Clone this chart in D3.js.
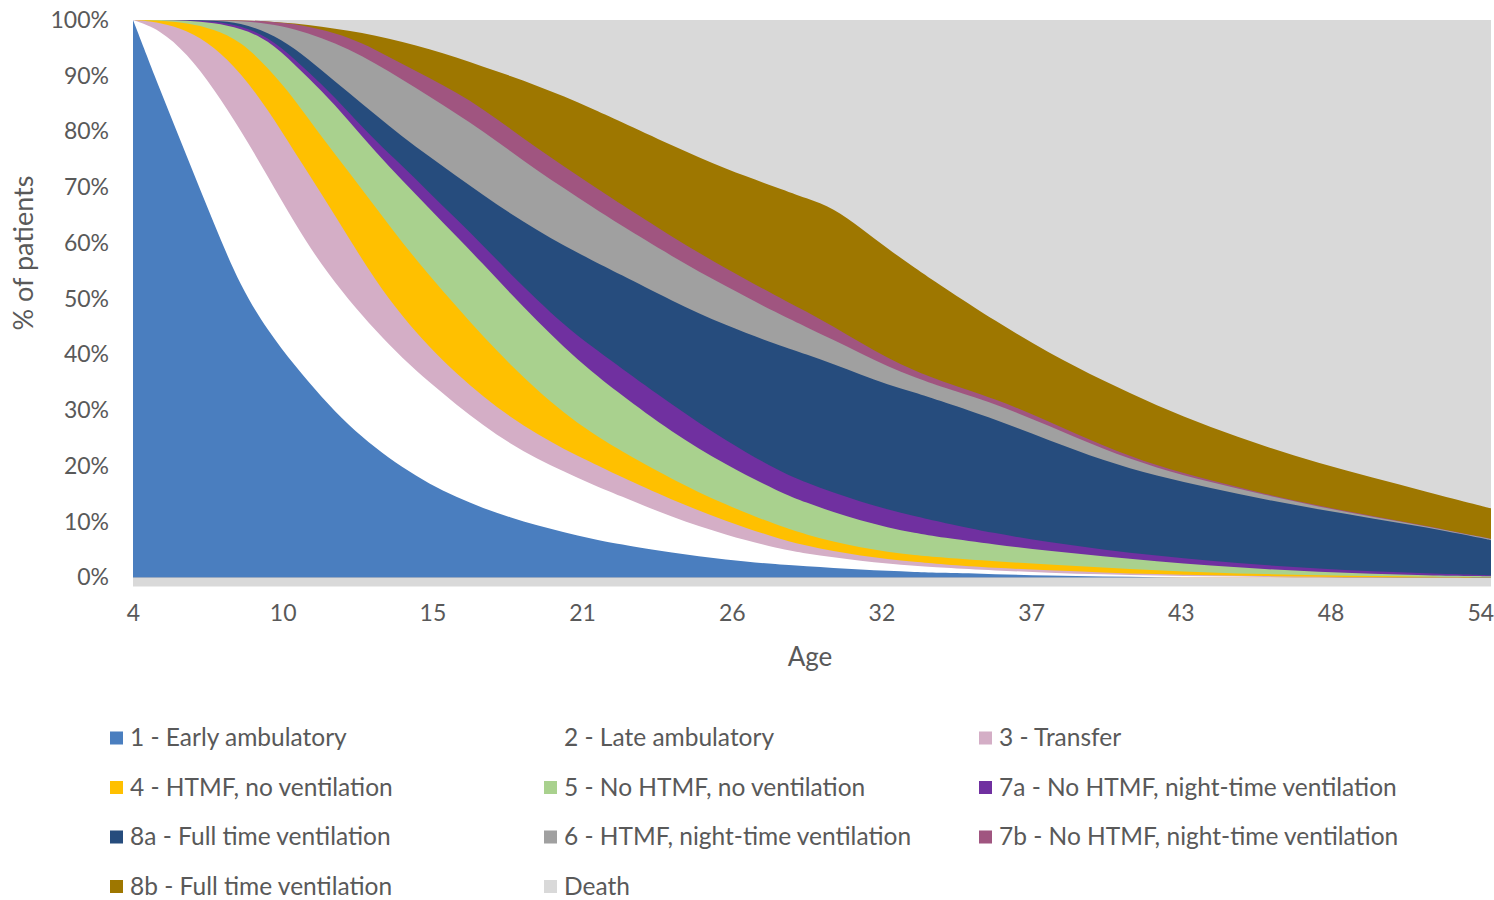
<!DOCTYPE html>
<html>
<head>
<meta charset="utf-8">
<script src="https://cdn.jsdelivr.net/npm/d3@7"></script>
<style>
  html, body { margin: 0; padding: 0; background: #fff; }
  svg { display: block; }
  text { font-family: Lato, "Open Sans", sans-serif; fill: #595959; }
</style>
</head>
<body>
<svg id="chart" width="1494" height="900"></svg>
<script>
// ---------- DATA ----------
const ages = [4,5,6,7,8,9,10,11,12,13,14,15,16,17,18,19,20,21,22,24,26,28,29,30,31,32,33,34,36,38,40,42,44,46,48,50,52,54,54.4];

const seriesNames = [
  "1 - Early ambulatory",
  "2 - Late ambulatory",
  "3 - Transfer",
  "4 - HTMF, no ventilation",
  "5 - No HTMF, no ventilation",
  "7a - No HTMF, night-time ventilation",
  "8a - Full time ventilation",
  "6 - HTMF, night-time ventilation",
  "7b - No HTMF, night-time ventilation",
  "8b - Full time ventilation",
  "Death"
];

const seriesColors = ["#4A7EBF","#FFFFFF","#D4AEC6","#FFC000","#A9D18E","#7030A0","#264C7D","#A0A0A0","#A05580","#9E7700","#D9D9D9"];

// % of patients in each state, by age
const earlyAmbulatory = [100,87.5,75.5,63.5,52,44.3,38,32.3,27.3,23.2,19.7,16.8,14.4,12.4,10.8,9.3,8.1,7,6,4.4,3.2,2.3,2,1.7,1.45,1.2,1,0.85,0.6,0.35,0.15,0.05,0,0,0,0,0,0,0];
const lateAmbulatory  = [0,10.8,18.5,24.2,28.2,27.7,25.5,23.7,22.5,21.1,19.6,18.2,16.6,14.9,13.2,12,10.9,9.8,8.8,6.4,4.4,2.8,2.3,1.9,1.55,1.3,1.1,0.95,0.65,0.5,0.4,0.3,0.2,0.1,0.05,0,0,0,0];
const transfer        = [0,1.3,4.2,7.6,10.3,12,12.8,12.8,11.2,8.9,7.5,6.3,5.6,5.1,4.8,4.4,4,3.9,3.5,3.1,2.5,1.8,1.4,1.1,0.9,0.8,0.7,0.6,0.45,0.45,0.35,0.25,0.2,0.15,0.1,0.08,0.03,0,0];
const htmfNoVent      = [0,0.3,1.3,3.1,5.7,7.5,9.5,10.2,11.8,13.2,13.2,12.9,12,10.8,9.4,7.9,6.5,5.3,4.7,3.7,2.9,2.3,2,1.7,1.5,1.3,1.2,1.2,1.2,1,0.9,0.7,0.5,0.35,0.25,0.17,0.09,0.05,0.05];
const noHtmfNoVent    = [0,0.1,0.4,1.1,2.3,5,6.2,8.3,9.2,9.9,11.2,12,12.6,13,12.8,12.4,11.8,11,10.2,8.4,7.2,6.1,5.7,5.3,4.8,4.4,4,3.6,3,2.5,2,1.6,1.2,0.9,0.6,0.4,0.28,0.2,0.17];
const noHtmfNightA    = [0,0,0.1,0.3,0.5,0.5,1,1.2,1.5,2,2.6,2.8,3.1,3.3,3.5,3.8,4,4.5,4.8,5,4.3,3.7,3.6,3.5,3.4,3.2,3,2.7,2,1.5,1.2,1,0.9,0.7,0.6,0.45,0.35,0.2,0.18];
const fullTimeVentA   = [0,0,0,0.1,0.5,0.8,2,2.5,3.5,4.7,5.2,6.5,7.7,9.1,10.8,12.5,14.2,15.5,16.6,18.6,20.7,22.6,23,23.1,22.8,22.4,22.2,21.7,20.5,18.3,16,14.3,13,11.8,10.6,9.5,8.25,6.65,6.3];
const htmfNight       = [0,0,0,0.1,0.3,1.6,3.4,5.8,7.8,9.2,10.3,10.8,11.2,11.4,11.2,10.7,10.3,9.6,8.9,8,7,5.6,4.9,4.3,3.8,3.3,2.7,2.6,2.8,2.6,2,1.4,1.1,0.8,0.5,0.3,0.2,0.15,0.2];
const noHtmfNightB    = [0,0,0,0,0.1,0.4,0.9,1.5,2.1,2.5,2.8,3.3,3.8,4,4,4,3.9,3.9,3.8,3.5,3.2,3,2.8,2.4,1.9,1.5,1.2,1,0.9,0.8,0.6,0.4,0.3,0.2,0.15,0.1,0.1,0.05,0.05];
const fullTimeVentB   = [0,0,0,0,0,0,0.1,0.5,1.2,2.5,4,5.2,6.3,7.6,9.5,11.2,12.6,13.7,14.7,16.4,17.8,19.6,20.3,21.3,20.6,19.6,18.5,17.1,13.9,12.2,11.7,10.8,9.5,8.5,7.65,6.9,6.1,5.6,5.45];
const death           = [0,0,0,0,0.1,0.2,0.6,1.2,1.9,2.8,3.9,5.2,6.7,8.4,10,11.8,13.7,15.8,18,22.5,26.8,30.2,32,33.7,37.3,41,44.4,47.7,54,59.8,64.7,69.2,73.1,76.5,79.5,82.1,84.6,87.1,87.6];

const seriesValues = [earlyAmbulatory, lateAmbulatory, transfer, htmfNoVent, noHtmfNoVent,
  noHtmfNightA, fullTimeVentA, htmfNight, noHtmfNightB, fullTimeVentB, death];

const xTickLabels = [4,10,15,21,26,32,37,43,48,54];
const yTickValues = [0,10,20,30,40,50,60,70,80,90,100];

// ---------- LAYOUT ----------
const svg = d3.select("#chart");
const plot = { left: 133, right: 1491, top: 20, bottom: 577.5 };
const fontStack = "Lato, 'Open Sans', sans-serif";

const x = d3.scaleLinear().domain([ages[0], ages[ages.length - 1]]).range([plot.left, plot.right]);
const y = d3.scaleLinear().domain([0, 100]).range([plot.bottom, plot.top]);

const rows = ages.map((a, i) => {
  const r = { age: a };
  seriesNames.forEach((n, k) => { r[n] = seriesValues[k][i]; });
  return r;
});

const layers = d3.stack().keys(seriesNames)(rows);

// light floor strip under 0%
svg.append("rect")
  .attr("x", x(ages[0])).attr("y", y(0))
  .attr("width", x(ages[ages.length - 1]) - x(ages[0]))
  .attr("height", 9)
  .attr("fill", "#D9D9D9");

// each layer filled from the baseline to its cumulative top, top layer painted first
const area = d3.area()
  .x(d => x(d.data.age))
  .y0(y(0))
  .y1(d => y(d[1]))
  .curve(d3.curveBasis);

svg.append("g")
  .selectAll("path")
  .data(layers.slice().reverse())
  .join("path")
  .attr("d", area)
  .attr("fill", d => seriesColors[d.index]);

// ---------- AXES ----------
const yAxis = d3.axisLeft(y).tickValues(yTickValues).tickSize(0).tickPadding(24)
  .tickFormat(d => d + "%");
const gy = svg.append("g").attr("transform", `translate(${plot.left},0)`).call(yAxis);
gy.select(".domain").remove();
gy.selectAll("text").style("font-size", "23px").style("fill", "#595959").style("font-family", fontStack);

const xPoint = d3.scalePoint().domain(xTickLabels)
  .range([x(xTickLabels[0]), x(xTickLabels[xTickLabels.length - 1])]);
const xAxis = d3.axisBottom(xPoint).tickSize(0).tickPadding(0);
const gx = svg.append("g").attr("transform", `translate(0,${plot.bottom + 27})`).call(xAxis);
gx.select(".domain").remove();
gx.selectAll("text").style("font-size", "23px").style("fill", "#595959").style("font-family", fontStack);

svg.append("text")
  .attr("x", 810).attr("y", 666)
  .attr("text-anchor", "middle")
  .style("font-size", "26px")
  .text("Age");

svg.append("text")
  .attr("transform", "translate(33,253) rotate(-90)")
  .attr("text-anchor", "middle")
  .style("font-size", "27px")
  .text("% of patients");

// ---------- LEGEND ----------
const legendCols = [110, 544, 979];
const legendRow0 = 737.5, legendRowStep = 49.5;
const legend = svg.append("g");
seriesNames.forEach((name, i) => {
  const col = i % 3, row = Math.floor(i / 3);
  const lx = legendCols[col], ly = legendRow0 + row * legendRowStep;
  legend.append("rect")
    .attr("x", lx).attr("y", ly - 6)
    .attr("width", 13).attr("height", 13)
    .attr("fill", seriesColors[i]);
  legend.append("text")
    .attr("x", lx + 20).attr("y", ly)
    .attr("dy", "0.35em")
    .style("font-size", "24.5px")
    .text(name);
});
</script>
</body>
</html>
